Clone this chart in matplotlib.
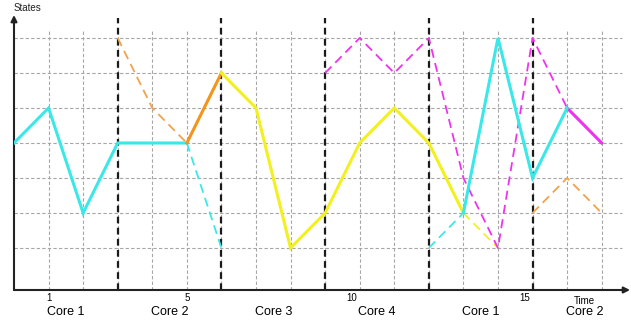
import matplotlib
matplotlib.use("Agg")
import matplotlib.pyplot as plt
from matplotlib.transforms import ScaledTranslation

plt.rcParams["font.family"] = ["Liberation Sans", "DejaVu Sans"]

# state levels per time step, one list per drawn segment
cyan_t1, cyan_y1 = [0, 1, 2, 3, 4, 5], [4, 5, 2, 4, 4, 4]
cyan_dash_t1, cyan_dash_y1 = [5, 6], [4, 1]
orange_dash_t1, orange_dash_y1 = [3, 4, 5], [7, 5, 4]
orange_t, orange_y = [5, 6], [4, 6]
yellow_t, yellow_y = [6, 7, 8, 9, 10, 11, 12, 13], [6, 5, 1, 2, 4, 5, 4, 2]
yellow_dash_t, yellow_dash_y = [13, 14], [2, 1]
magenta_dash_t, magenta_dash_y = [9, 10, 11, 12, 13, 14, 15, 16], [6, 7, 6, 7, 3, 1, 7, 5]
magenta_t, magenta_y = [16, 17], [5, 4]
cyan_dash_t2, cyan_dash_y2 = [12, 13], [1, 2]
cyan_t2, cyan_y2 = [13, 14, 15, 16], [2, 7, 3, 5]
orange_dash_t2, orange_dash_y2 = [15, 16, 17], [2, 3, 2]

core_switch_times = [3, 6, 9, 12, 15]
core_labels = ["Core 1", "Core 2", "Core 3", "Core 4", "Core 1", "Core 2"]
tick_times = [1, 5, 10, 15]
n_levels = 7
n_times = 17

CYAN = "#3ae8e8"
ORANGE = "#f3951c"
ORANGE_D = "#f2a24a"
YELLOW = "#f2f020"
MAGENTA = "#ee33ee"

W, H = 631, 322
fig = plt.figure(figsize=(W / 100, H / 100), dpi=100)
# axes box in pixels: x 14..631, y 15..290
ax = fig.add_axes([14 / W, (H - 290) / H, 617 / W, 275 / H])
x_max = 617 / 34.57
y_min, y_max = -0.2, 7.657
ax.set_xlim(0, x_max)
ax.set_ylim(y_min, y_max)
for s in ax.spines.values():
    s.set_visible(False)
ax.set_yticks([])
ax.set_xticks(tick_times)
ax.set_xticklabels([str(t) for t in tick_times], fontsize=7)
ax.tick_params(axis="x", length=0, pad=2)
# two digit labels sit a bit left of their tick in the original
for lab in ax.get_xticklabels():
    if len(lab.get_text()) > 1:
        lab.set_transform(lab.get_transform() +
                          ScaledTranslation(-6 / 72, 0, fig.dpi_scale_trans))

# grid
grid_kw = dict(color="#a6a6a6", lw=0.8, ls=(0, (3, 2)), zorder=1)
for k in range(1, n_levels + 1):
    ax.plot([0, 17.6], [k, k], **grid_kw)
for t in range(1, n_times + 1):
    ax.plot([t, t], [y_min, 7.23], **grid_kw)

# core switch markers
for t in core_switch_times:
    ax.plot([t, t], [y_min, 7.57], color="#1a1a1a", lw=1.6,
            ls=(0, (3, 2)), zorder=2)

# state traces
solid = dict(lw=2.2, zorder=4, solid_joinstyle="miter")
dashed = dict(lw=1.3, ls=(0, (5, 3)), zorder=3)
ax.plot(cyan_t1, cyan_y1, color=CYAN, **solid)
ax.plot(cyan_dash_t1, cyan_dash_y1, color=CYAN, **dashed)
ax.plot(orange_dash_t1, orange_dash_y1, color=ORANGE_D, **dashed)
ax.plot(orange_t, orange_y, color=ORANGE, **solid)
ax.plot(yellow_t, yellow_y, color=YELLOW, **solid)
ax.plot(yellow_dash_t, yellow_dash_y, color=YELLOW, **dashed)
ax.plot(magenta_dash_t, magenta_dash_y, color=MAGENTA, **dashed)
ax.plot(magenta_t, magenta_y, color=MAGENTA, **solid)
ax.plot(cyan_dash_t2, cyan_dash_y2, color=CYAN, **dashed)
ax.plot(cyan_t2, cyan_y2, color=CYAN, **solid)
ax.plot(orange_dash_t2, orange_dash_y2, color=ORANGE_D, **dashed)

# axis arrows
arrow = dict(arrowstyle="-|>", color="#222222", lw=1.5, mutation_scale=9,
             shrinkA=0, shrinkB=0)
ax.annotate("", xy=(0, y_max), xytext=(0, y_min),
            arrowprops=arrow, annotation_clip=False)
ax.annotate("", xy=(17.82, y_min), xytext=(0, y_min),
            arrowprops=arrow, annotation_clip=False)

ax.text(0, 7.85, "States", fontsize=7, ha="left", va="center",
        color="#222222")
ax.annotate("Time", xy=(16.5, y_min), xytext=(0, -8),
            textcoords="offset points", fontsize=7, ha="center",
            va="center", annotation_clip=False)

# core labels centred in each segment
bounds = [0] + core_switch_times + [18]
for i, label in enumerate(core_labels):
    mid = (bounds[i] + bounds[i + 1]) / 2
    ax.annotate(label, xy=(mid, y_min), xytext=(0, -15.5),
                textcoords="offset points", fontsize=9, ha="center",
                va="center", annotation_clip=False)

fig.savefig("out.png", dpi=100)
